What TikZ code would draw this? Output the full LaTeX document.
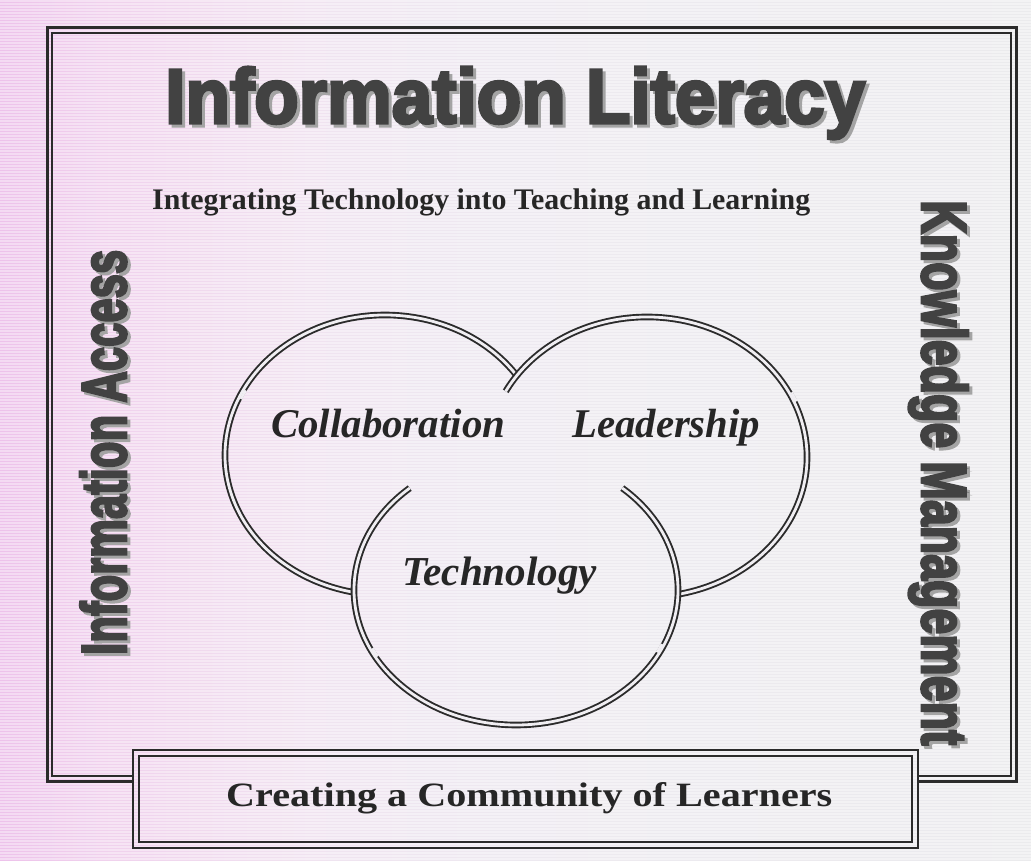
\documentclass[tikz,border=0pt]{standalone}
\usepackage{fontspec}
\usepackage{graphicx}
\setmainfont{Liberation Serif}
\newfontfamily\heavy[FakeBold=4]{Liberation Sans Bold}
\definecolor{ink}{HTML}{424242}
\definecolor{shade}{HTML}{A4A4A4}
\definecolor{serifink}{HTML}{262626}
\definecolor{lineink}{HTML}{2B2B2B}
\definecolor{gapfill}{HTML}{F0EEF2}
\newcommand\withshadow[3]{\makebox[0pt][l]{\hspace*{#1}\raisebox{#2}{\textcolor{shade}{#3}}}#3}
\pgfdeclarehorizontalshading{bgshade}{100bp}{rgb(0bp)=(0.93,0.76,0.92); rgb(25bp)=(0.93,0.76,0.92); rgb(30bp)=(0.94,0.82,0.93); rgb(40bp)=(0.94,0.89,0.94); rgb(50bp)=(0.93,0.915,0.94); rgb(75bp)=(0.92,0.92,0.93); rgb(100bp)=(0.92,0.92,0.93)}
\tikzset{
  ring/.style={draw=lineink, line width=1.9pt, double=gapfill, double distance=2.8pt},
  ringgap/.style={draw=gapfill, line width=2.6pt},
  framethick/.style={draw=lineink, line width=3pt},
  framethin/.style={draw=lineink, line width=1.3pt},
  bigtext/.style={inner sep=0pt, text=ink},
  seriftext/.style={inner sep=0pt, text=serifink, font=\bfseries},
  venntext/.style={inner sep=0pt, text=serifink, font=\bfseries\itshape},
}
\begin{document}
\begin{tikzpicture}[x=1pt, y=-1pt]
\useasboundingbox (0,0) rectangle (1031,861);
% background
\shade[shading=bgshade] (0,0) rectangle (1031,861);
\foreach \yy in {1,4,...,861} \draw[white, opacity=0.4, line width=1.2pt] (0,\yy) -- (1031,\yy);
% outer frame (interrupted by the bottom box)
\draw[framethick] (133,781) -- (47,781) -- (47,28) -- (1016,28) -- (1016,781) -- (918,781);
\draw[framethin] (133,776) -- (52,776) -- (52,33) -- (1011,33) -- (1011,776) -- (918,776);
% bottom box
\draw[framethick, line width=2.4pt] (133,750) rectangle (918,848);
\draw[framethin, line width=1.1pt] (139,756) rectangle (912,842);
\node[seriftext, anchor=base west] (community) at (226,806) {\resizebox{606pt}{24pt}{Creating a Community of Learners}};
% title
\node[bigtext, anchor=base west] (title) at (165,123) {\withshadow{3pt}{-3pt}{\resizebox{700pt}{56pt}{\heavy Information Literacy}}};
\node[seriftext, anchor=base west] (subtitle) at (152,210) {\resizebox{658pt}{!}{Integrating Technology into Teaching and Learning}};
% side titles
\node[bigtext, rotate=90, anchor=base west] (access) at (126,655) {\withshadow{-3pt}{-3pt}{\resizebox{405pt}{46pt}{\heavy Information Access}}};
\node[bigtext, rotate=-90, anchor=base west] (know) at (922,200) {\withshadow{3pt}{3pt}{\resizebox{545pt}{46pt}{\heavy Knowledge Management}}};
% three interlocking rings (centres (385,455), (647,457), (516,590))
\coordinate (c1s) at (516.06,374.70);
\coordinate (c2s) at (505.73,391.27);
\coordinate (c3s) at (409.72,488.11);
\draw[ring] (c1s) arc[start angle=-35, end angle=-258.9, x radius=160, y radius=140];
\draw[ring] (c2s) arc[start angle=-152, end angle=78.9, x radius=160, y radius=140];
\draw[ring] (c3s) arc[start angle=-131, end angle=-409, x radius=162, y radius=135];
% small breaks in the ring lines
\coordinate (g1) at (240.9,399.0);
\coordinate (g2) at (791.6,392.4);
\coordinate (g3) at (377.7,656.4);
\coordinate (g4) at (661.9,644.0);
\draw[ringgap] (g1) arc[start angle=-156, end angle=-152, x radius=157.75, y radius=137.75];
\draw[ringgap] (g2) arc[start angle=-27, end angle=-23, x radius=162.25, y radius=142.25];
\draw[ringgap] (g3) arc[start angle=-210, end angle=-206, x radius=159.75, y radius=132.75];
\draw[ringgap] (g4) arc[start angle=-336, end angle=-332, x radius=159.75, y radius=132.75];
% ring labels
\node[venntext, anchor=base west] (collab) at (271,437) {\resizebox{234pt}{!}{Collaboration}};
\node[venntext, anchor=base west] (lead) at (572,437) {\resizebox{188pt}{!}{Leadership}};
\node[venntext, anchor=base west] (tech) at (402,585) {\resizebox{195pt}{!}{Technology}};
\end{tikzpicture}
\end{document}
